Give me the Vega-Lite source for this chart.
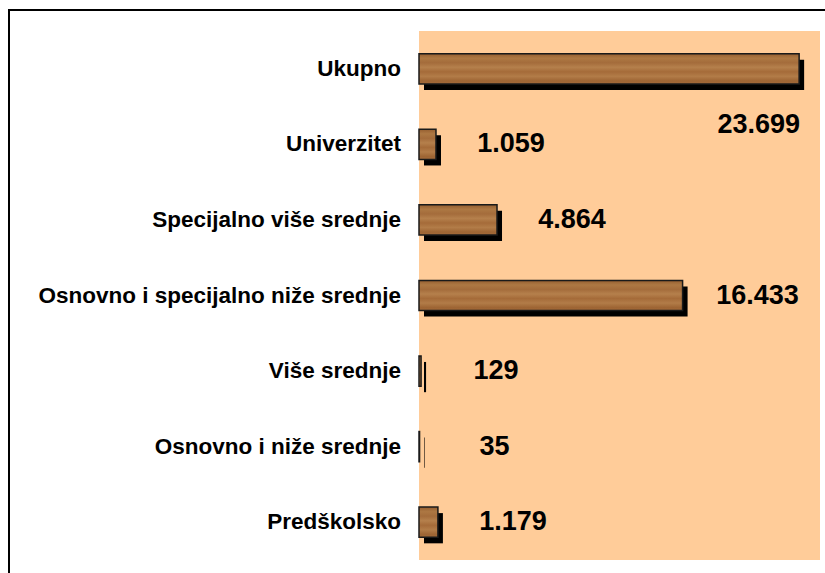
{
  "$schema": "https://vega.github.io/schema/vega-lite/v6.json",
  "width": 830,
  "height": 580,
  "autosize": {"type": "none"},
  "padding": {"left": 9, "top": 10, "right": 0, "bottom": 0},
  "background": "white",
  "config": {
    "view": {"stroke": "#000000", "strokeWidth": 2, "fill": "white"},
    "font": "Liberation Sans"
  },
  "data": {
    "values": [
      {"cat": "Ukupno", "v": 23699, "lbl": "23.699"},
      {"cat": "Univerzitet", "v": 1059, "lbl": "1.059"},
      {"cat": "Specijalno više srednje", "v": 4864, "lbl": "4.864"},
      {"cat": "Osnovno i specijalno niže srednje\u00a0", "v": 16433, "lbl": "16.433"},
      {"cat": "Više srednje", "v": 129, "lbl": "129"},
      {"cat": "Osnovno i niže srednje", "v": 35, "lbl": "35"},
      {"cat": "Predškolsko", "v": 1179, "lbl": "1.179"}
    ]
  },
  "resolve": {"scale": {"y": "independent"}},
  "layer": [
    {
      "mark": {"type": "rect", "fill": "#FFCC99"},
      "encoding": {
        "x": {"datum": 0, "type": "quantitative", "scale": {"domain": [0, 25000], "range": [410, 811], "nice": false, "zero": true}, "axis": null},
        "x2": {"datum": 25000},
        "y": {"datum": 0, "type": "quantitative", "scale": {"domain": [0, 1], "range": [550, 21], "nice": false}, "axis": null},
        "y2": {"datum": 1}
      }
    },
    {
      "encoding": {
        "y": {
          "field": "cat",
          "type": "nominal",
          "sort": null,
          "scale": {
            "domain": ["Ukupno", "Univerzitet", "Specijalno više srednje", "Osnovno i specijalno niže srednje\u00a0", "Više srednje", "Osnovno i niže srednje", "Predškolsko"],
            "range": [21, 550],
            "paddingInner": 0.6,
            "paddingOuter": 0.3
          },
          "axis": null
        }
      },
      "layer": [
        {
          "mark": {"type": "bar", "fill": "black", "xOffset": 5, "x2Offset": 5, "yOffset": 6, "y2Offset": 6},
          "encoding": {
            "x": {"field": "v", "type": "quantitative", "scale": {"domain": [0, 25000], "range": [410, 811], "nice": false, "zero": true}, "axis": null}
          }
        },
        {
          "mark": {
            "type": "bar",
            "stroke": "#1a1a1a",
            "strokeWidth": 1.5,
            "fill": {
              "gradient": "linear",
              "x1": 0, "y1": 0, "x2": 0, "y2": 1,
              "stops": [
                {"offset": 0, "color": "#955E30"},
                {"offset": 0.15, "color": "#AD7843"},
                {"offset": 0.3, "color": "#A46C3B"},
                {"offset": 0.45, "color": "#B5804C"},
                {"offset": 0.6, "color": "#A56B39"},
                {"offset": 0.75, "color": "#B27C48"},
                {"offset": 0.9, "color": "#9E6534"},
                {"offset": 1, "color": "#A26A3A"}
              ]
            }
          },
          "encoding": {
            "x": {"field": "v", "type": "quantitative"}
          }
        },
        {
          "mark": {"type": "text", "align": "right", "baseline": "middle", "dx": -18, "fontSize": 22.5, "fontWeight": "bold", "font": "Liberation Sans", "color": "black"},
          "encoding": {
            "x": {"datum": 0, "type": "quantitative"},
            "text": {"field": "cat"}
          }
        },
        {
          "transform": [{"filter": "datum.v !== 23699"}],
          "mark": {"type": "text", "align": "center", "baseline": "middle", "dx": 75, "fontSize": 27, "fontWeight": "bold", "font": "Liberation Sans", "color": "black"},
          "encoding": {
            "x": {"field": "v", "type": "quantitative"},
            "text": {"field": "lbl"}
          }
        },
        {
          "transform": [{"filter": "datum.v === 23699"}],
          "mark": {"type": "text", "align": "right", "baseline": "middle", "dx": 1, "dy": 56, "fontSize": 27, "fontWeight": "bold", "font": "Liberation Sans", "color": "black"},
          "encoding": {
            "x": {"field": "v", "type": "quantitative"},
            "text": {"field": "lbl"}
          }
        }
      ]
    }
  ]
}
